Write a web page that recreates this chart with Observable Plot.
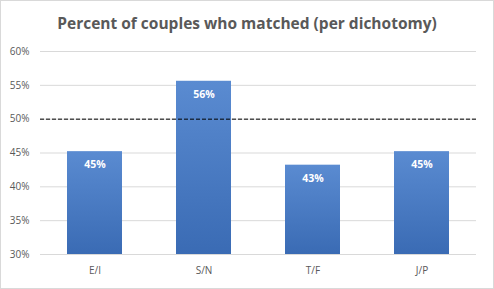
<!DOCTYPE html>
<html><head><meta charset="utf-8">
<script src="https://cdn.jsdelivr.net/npm/d3@7"></script>
<script src="https://cdn.jsdelivr.net/npm/@observablehq/plot@0.6"></script>
<style>
body{margin:0;background:#fff;}
#wrap{position:relative;width:494px;height:289px;font-family:"Open Sans",sans-serif;}
#frame{position:absolute;left:0;top:0;width:494px;height:289px;box-sizing:border-box;border:1px solid #d9d9d9;pointer-events:none;}
#title{position:absolute;left:0;top:13px;width:494px;text-align:center;font-weight:bold;font-size:15.5px;line-height:20px;color:#595959;}
#chart{position:absolute;left:0;top:0;}
</style></head><body>
<div id="wrap"><div id="chart"></div><div id="title">Percent of couples who matched (per dichotomy)</div><div id="frame"></div></div>
<script>
const categories = ["E/I", "S/N", "T/F", "J/P"];
const values = [0.452, 0.556, 0.432, 0.452];
const yTicks = [0.30, 0.35, 0.40, 0.45, 0.50, 0.55, 0.60];
const threshold = [0.5];

const data = categories.map((c, i) => ({category: c, value: values[i]}));
const pct = d3.format(".0%");

const plot = Plot.plot({
  width: 494,
  height: 289,
  marginTop: 51,
  marginBottom: 35,
  marginLeft: 40,
  marginRight: 18,
  style: {fontFamily: "'Open Sans', sans-serif", fontSize: "10px", color: "#595959", background: "transparent"},
  x: {domain: categories, paddingInner: 0.5, paddingOuter: 0.25, label: null, tickSize: 0, tickPadding: 12},
  y: {domain: [0.30, 0.60], ticks: yTicks, tickFormat: pct, label: null, tickSize: 0, tickPadding: 11},
  marks: [
    Plot.ruleY(yTicks, {stroke: "#d9d9d9", strokeOpacity: 1}),
    Plot.barY(data, {x: "category", y1: 0.30, y2: "value", fill: "url(#barGrad)"}),
    Plot.ruleY(threshold, {stroke: "#000", strokeDasharray: "4,2", strokeWidth: 1}),
    Plot.text(data, {x: "category", y: "value", text: d => pct(d.value), dy: 13, fill: "#fff", fontWeight: "bold", fontSize: 10.5})
  ]
});

const svg = d3.select(plot);
const defs = svg.insert("defs", ":first-child");
const g = defs.append("linearGradient").attr("id", "barGrad").attr("x1", 0).attr("y1", 0).attr("x2", 0).attr("y2", 1);
g.append("stop").attr("offset", "0%").attr("stop-color", "#5a8bd1");
g.append("stop").attr("offset", "100%").attr("stop-color", "#3a6bb4");

document.getElementById("chart").appendChild(plot);
</script>
</body></html>
